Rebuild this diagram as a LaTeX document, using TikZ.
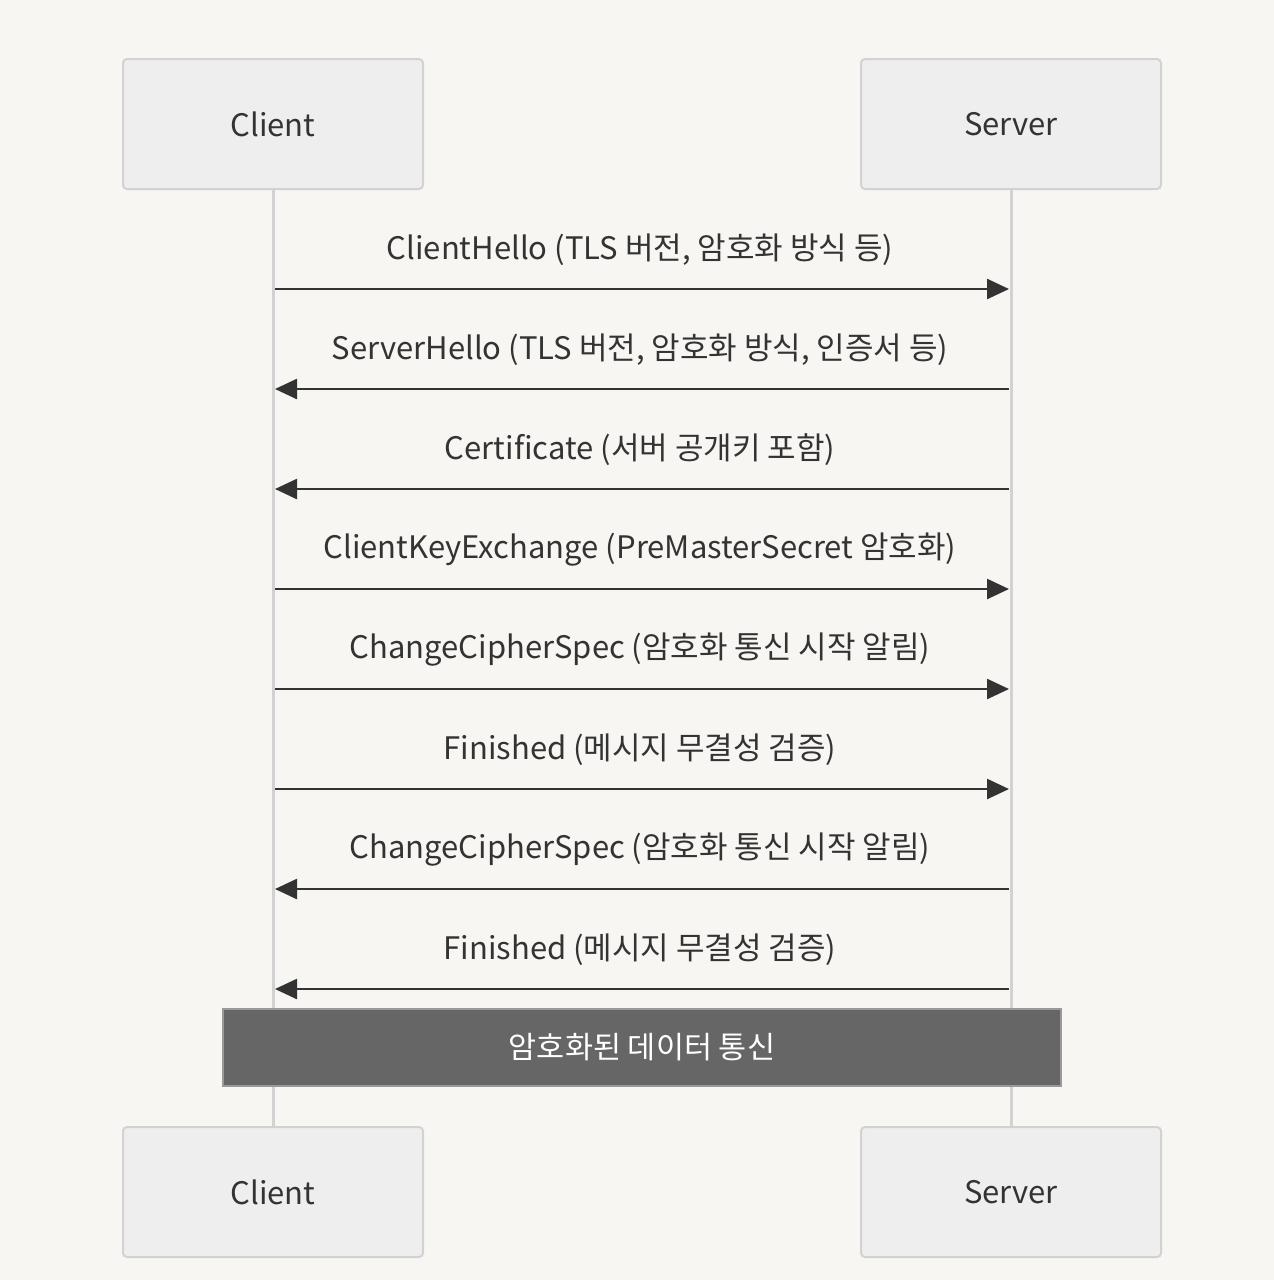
\documentclass[tikz,border=0pt]{standalone}
\usepackage{fontspec}
\setmainfont{Noto Sans CJK KR}
\usetikzlibrary{arrows.meta}
\definecolor{bg}{HTML}{F7F6F3}
\definecolor{actfill}{HTML}{EEEEEE}
\definecolor{actline}{HTML}{D2D2D2}
\definecolor{ink}{HTML}{333333}
\definecolor{notefill}{HTML}{666666}
\definecolor{noteline}{HTML}{999999}
\tikzset{
  actor/.style={draw=actline, line width=2pt, fill=actfill, rounded corners=4pt,
    minimum width=300pt, minimum height=130pt, inner sep=0pt,
    font=\fontsize{31}{36}\selectfont, text=ink},
  lifeline/.style={draw=actline, line width=3pt},
  msg/.style={draw=ink, line width=2.5pt, -{Triangle[length=22pt,width=20pt]}},
  lbl/.style={font=\fontsize{31}{36}\selectfont, text=ink, inner sep=0pt},
  notebox/.style={draw=noteline, line width=2pt, fill=notefill, minimum width=838pt,
    minimum height=77pt, inner sep=0pt, text=white, font=\fontsize{30.5}{36}\selectfont}
}
\begin{document}
\begin{tikzpicture}[x=1pt,y=-1pt]
\useasboundingbox[fill=bg] (0,0) rectangle (1274,1280);
\coordinate (ctop) at (273,189);
\coordinate (cbot) at (273,1127);
\coordinate (stop) at (1011,189);
\coordinate (sbot) at (1011,1127);
\draw[lifeline] (ctop) -- (cbot);
\draw[lifeline] (stop) -- (sbot);
\node[actor] (c1) at (273,124) {Client};
\node[actor] (s1) at (1011,124) {Server};
\node[actor] (c2) at (273,1192) {Client};
\node[actor] (s2) at (1011,1192) {Server};
% messages
\foreach \i/\y/\dir/\t in {
  1/289/r/{ClientHello (TLS 버전, 암호화 방식 등)},
  2/389/l/{ServerHello (TLS 버전, 암호화 방식, 인증서 등)},
  3/489/l/{Certificate (서버 공개키 포함)},
  4/589/r/{ClientKeyExchange (PreMasterSecret 암호화)},
  5/689/r/{ChangeCipherSpec (암호화 통신 시작 알림)},
  6/789/r/{Finished (메시지 무결성 검증)},
  7/889/l/{ChangeCipherSpec (암호화 통신 시작 알림)},
  8/989/l/{Finished (메시지 무결성 검증)}}{
  \coordinate (cl\i) at (275,\y);
  \coordinate (sl\i) at (1009,\y);
  \node[lbl] (m\i) at (640,\y-39) {\t};
  \if r\dir
    \draw[msg] (cl\i) -- (sl\i);
  \else
    \draw[msg] (sl\i) -- (cl\i);
  \fi
}
\node[notebox] (note) at (642,1047.5) {암호화된 데이터 통신};
\end{tikzpicture}
\end{document}
